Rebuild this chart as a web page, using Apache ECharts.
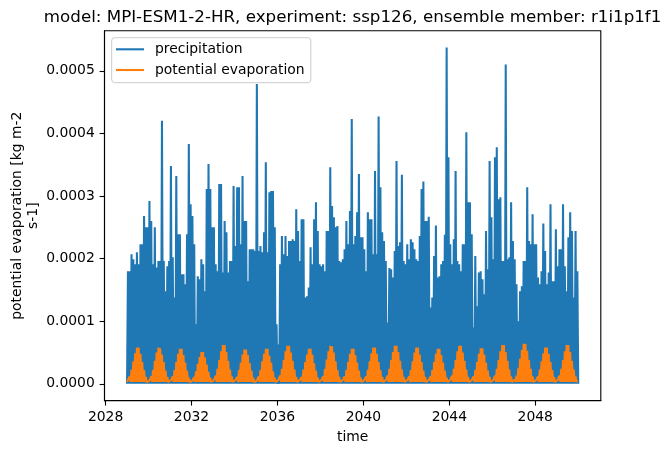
<!DOCTYPE html>
<html>
<head>
<meta charset="utf-8">
<script src="https://cdn.jsdelivr.net/npm/echarts@6/dist/echarts.min.js"></script>
<style>
  html, body { margin: 0; padding: 0; background: #fff; }
  #chart { width: 671px; height: 453px; }
</style>
</head>
<body>
<div id="chart"></div>
<script>
/* values in units of 1e-4 kg m-2 s-1, one number per month, Jan 2029 .. Dec 2049 */
var SCALE = 1e-4;
var startYear = 2029;

/* monthly maxima of precipitation (one row per year) */
var precipPeak = [
  1.80,1.80,2.07,1.99,1.91,2.10,1.91,2.23,2.23,2.68,2.50,2.50,
  2.92,2.60,1.91,2.50,1.86,1.96,1.96,4.20,1.96,1.48,1.88,1.96,
  3.48,2.02,1.38,3.32,2.39,2.39,1.75,1.75,1.59,2.39,3.83,2.87,
  2.68,2.23,0.95,1.72,1.67,1.99,1.91,1.48,3.11,3.51,3.11,2.50,
  2.50,1.91,1.80,3.19,3.19,1.78,2.60,2.42,1.78,1.96,1.96,3.16,
  2.20,3.14,3.14,2.23,3.32,2.60,2.60,1.64,2.15,2.15,2.15,2.12,
  4.79,2.12,2.20,2.10,2.42,3.54,2.10,3.06,3.08,3.08,2.50,0.95,
  0.63,1.91,2.36,2.07,2.36,2.04,2.28,2.28,2.31,2.28,2.79,2.44,
  1.96,2.63,2.63,1.38,1.40,1.54,2.18,1.91,2.63,2.90,2.44,1.91,
  1.88,1.91,1.80,2.44,2.44,3.46,2.84,2.66,2.50,2.52,1.96,1.94,
  1.99,2.15,2.60,2.23,2.76,4.23,2.23,2.36,2.74,3.35,2.34,2.34,
  2.15,1.80,2.74,2.63,2.63,2.07,3.40,2.07,4.27,3.14,2.42,2.28,
  1.96,0.98,1.85,1.83,1.70,2.12,3.56,2.20,2.26,3.34,1.96,1.91,
  2.23,1.99,2.31,2.26,2.15,1.99,1.96,2.36,3.11,3.23,2.60,2.60,
  2.67,1.22,1.38,2.04,2.53,1.70,1.72,1.91,1.96,2.38,5.37,3.62,
  2.23,1.91,2.31,3.40,1.96,1.91,1.80,2.23,2.23,4.02,2.90,2.90,
  2.39,0.90,2.04,1.24,1.78,1.80,1.67,1.43,2.44,1.83,3.56,2.66,
  1.99,3.62,3.78,2.95,2.98,1.96,1.96,5.10,1.99,2.02,2.90,2.28,
  1.99,1.59,1.00,1.48,1.56,1.96,1.96,3.14,2.28,2.23,2.71,2.23,
  2.23,1.70,1.59,1.80,2.56,2.12,1.59,1.78,2.87,1.64,1.64,2.47,
  1.88,2.15,2.15,2.87,1.88,1.48,2.34,2.74,2.44,1.38,2.44,1.80
];
var precipLow = 0;

/* monthly maxima of potential evaporation */
var evapPeak = [
  0.06,0.12,0.23,0.36,0.49,0.58,0.58,0.48,0.35,0.22,0.11,0.05,
  0.05,0.12,0.22,0.37,0.50,0.58,0.57,0.47,0.35,0.21,0.11,0.06,
  0.06,0.12,0.22,0.35,0.48,0.56,0.56,0.46,0.34,0.21,0.10,0.05,
  0.05,0.11,0.20,0.32,0.43,0.51,0.51,0.42,0.31,0.19,0.10,0.05,
  0.06,0.13,0.24,0.38,0.52,0.62,0.62,0.51,0.37,0.23,0.12,0.06,
  0.06,0.11,0.22,0.34,0.47,0.55,0.55,0.46,0.33,0.21,0.10,0.05,
  0.05,0.12,0.22,0.36,0.48,0.56,0.56,0.45,0.34,0.20,0.10,0.05,
  0.06,0.13,0.24,0.38,0.52,0.61,0.61,0.50,0.37,0.23,0.11,0.06,
  0.06,0.11,0.23,0.35,0.47,0.56,0.56,0.47,0.33,0.21,0.10,0.05,
  0.06,0.12,0.24,0.39,0.52,0.61,0.60,0.50,0.36,0.22,0.11,0.06,
  0.06,0.12,0.22,0.35,0.48,0.56,0.56,0.46,0.34,0.21,0.10,0.05,
  0.06,0.12,0.23,0.36,0.49,0.58,0.58,0.48,0.35,0.22,0.11,0.05,
  0.06,0.13,0.24,0.38,0.51,0.61,0.61,0.51,0.37,0.23,0.11,0.06,
  0.06,0.12,0.22,0.36,0.50,0.58,0.58,0.47,0.35,0.21,0.11,0.05,
  0.06,0.12,0.22,0.35,0.48,0.56,0.56,0.46,0.34,0.21,0.10,0.05,
  0.06,0.13,0.24,0.38,0.52,0.61,0.61,0.50,0.37,0.23,0.11,0.06,
  0.06,0.12,0.22,0.35,0.48,0.57,0.57,0.47,0.34,0.21,0.11,0.05,
  0.06,0.13,0.24,0.38,0.52,0.62,0.62,0.51,0.37,0.23,0.12,0.06,
  0.07,0.13,0.25,0.40,0.54,0.64,0.64,0.53,0.38,0.24,0.12,0.06,
  0.06,0.12,0.23,0.36,0.49,0.58,0.58,0.48,0.35,0.22,0.11,0.05,
  0.06,0.13,0.24,0.38,0.52,0.62,0.62,0.51,0.37,0.23,0.12,0.06
];
var evapLow = 0.03;

var xTicks = [2028, 2032, 2036, 2040, 2044, 2048];
var yTicks = [0, 0.0001, 0.0002, 0.0003, 0.0004, 0.0005];

/* each month: trough at its start, peak in the middle */
function monthPoints(peaks, low) {
  var pts = [];
  for (var i = 0; i < peaks.length; i++) {
    pts.push([startYear + i / 12, low * SCALE]);
    pts.push([startYear + (i + 0.5) / 12, peaks[i] * SCALE]);
  }
  pts.push([startYear + peaks.length / 12, low * SCALE]);
  return pts;
}

var FONT = 'DejaVu Sans';
var chart = echarts.init(document.getElementById('chart'), null, { renderer: 'canvas' });

var option = {
  animation: false,
  backgroundColor: '#ffffff',
  textStyle: { fontFamily: FONT },
  grid: {
    left: 104.5, right: 70.2, top: 30.7, bottom: 52.3,
    show: true, borderColor: '#000', borderWidth: 1.1, backgroundColor: 'transparent'
  },
  legend: {
    orient: 'vertical',
    left: 111.7, top: 37.7,
    padding: [3.6, 6.2, 4.7, 4.3],
    itemGap: 4.7,
    itemWidth: 28, itemHeight: 2.1,
    icon: 'rect',
    backgroundColor: 'rgba(255,255,255,0.8)',
    borderColor: '#cccccc', borderWidth: 1, borderRadius: 3,
    textStyle: { fontFamily: FONT, fontSize: 13.9, color: '#000', lineHeight: 16, padding: [0, 0, 0, 6] },
    data: ['precipitation', 'potential evaporation']
  },
  xAxis: {
    type: 'value',
    min: 2027.95, max: 2051.05,
    name: 'time', nameLocation: 'middle', nameGap: 30,
    nameTextStyle: { fontFamily: FONT, fontSize: 13.9, color: '#000' },
    axisLine: { show: true, onZero: false, lineStyle: { color: '#000', width: 1.1 } },
    axisTick: { show: true, length: 4.9, lineStyle: { color: '#000', width: 1.1 }, customValues: xTicks },
    axisLabel: {
      customValues: xTicks, margin: 9.7,
      fontFamily: FONT, fontSize: 13.9, color: '#000',
      formatter: function (v) { return String(Math.round(v)); }
    },
    splitLine: { show: false }
  },
  yAxis: {
    type: 'value',
    min: -0.0000269, max: 0.000564,
    axisLine: { show: true, onZero: false, lineStyle: { color: '#000', width: 1.1 } },
    axisTick: { show: true, length: 4.9, lineStyle: { color: '#000', width: 1.1 }, customValues: yTicks },
    axisLabel: {
      customValues: yTicks, margin: 9.7,
      fontFamily: FONT, fontSize: 13.9, color: '#000',
      formatter: function (v) { return v.toFixed(4); }
    },
    splitLine: { show: false }
  },
  graphic: [
    {
      type: 'text', x: 352.6, y: 26,
      style: {
        text: 'model: MPI-ESM1-2-HR, experiment: ssp126, ensemble member: r1i1p1f1',
        font: '16.7px "DejaVu Sans"', fill: '#000', align: 'center', verticalAlign: 'bottom'
      }
    },
    {
      type: 'text', x: 25.5, y: 215.7, rotation: Math.PI / 2,
      style: {
        text: 'potential evaporation [kg m-2\ns-1]',
        font: '13.9px "DejaVu Sans"', fill: '#000', align: 'center', verticalAlign: 'middle', lineHeight: 15.5
      }
    }
  ],
  series: [
    {
      name: 'precipitation', type: 'line',
      data: monthPoints(precipPeak, precipLow),
      showSymbol: false, symbol: 'none', sampling: null,
      color: '#1f77b4', lineStyle: { width: 2.08, color: '#1f77b4' }
    },
    {
      name: 'potential evaporation', type: 'line',
      data: monthPoints(evapPeak, evapLow),
      showSymbol: false, symbol: 'none', sampling: null,
      color: '#ff7f0e', lineStyle: { width: 2.08, color: '#ff7f0e' }
    }
  ]
};
chart.setOption(option);
</script>
</body>
</html>
